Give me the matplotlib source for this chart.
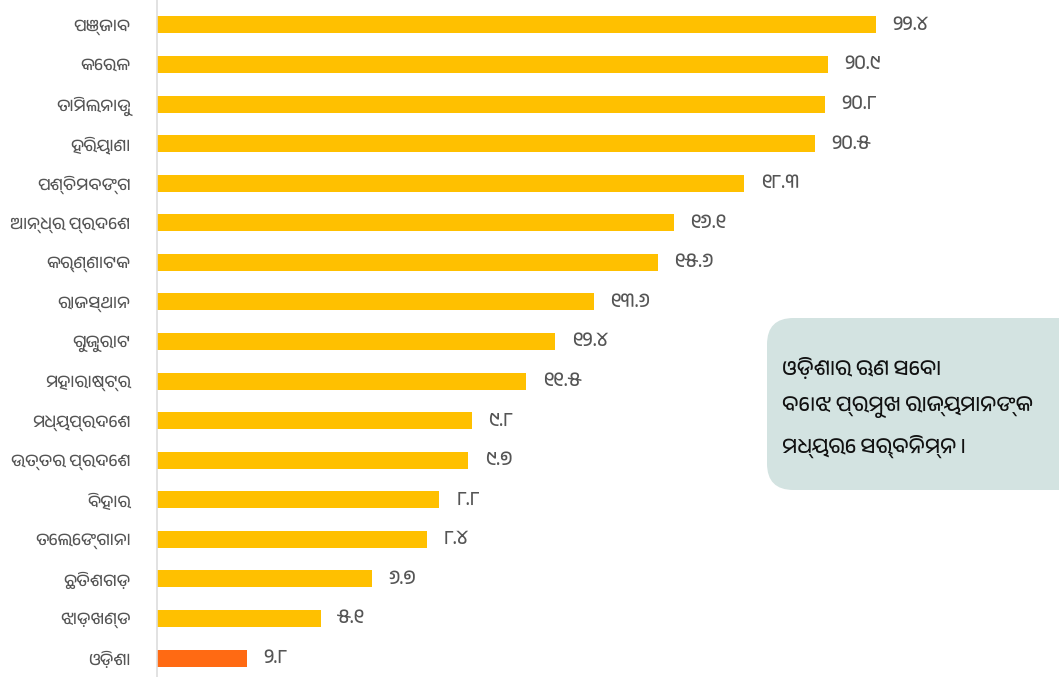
import matplotlib
matplotlib.use("Agg")
import matplotlib.pyplot as plt
from matplotlib import font_manager as fm
from matplotlib.patches import FancyBboxPatch

states = ["ପଞ୍ଜାବ", "କେରଳ", "ତାମିଲନାଡୁ", "ହରିୟାଣା", "ପଶ୍ଚିମବଙ୍ଗ", "ଆନ୍ଧ୍ର ପ୍ରଦେଶ",
          "କର୍ଣ୍ଣାଟକ", "ରାଜସ୍ଥାନ", "ଗୁଜୁରାଟ", "ମହାରାଷ୍ଟ୍ର", "ମଧ୍ୟପ୍ରଦେଶ", "ଉତ୍ତର ପ୍ରଦେଶ",
          "ବିହାର", "ତେଲେଙ୍ଗାନା", "ଛତିଶଗଡ଼", "ଝାଡ଼ଖଣ୍ଡ", "ଓଡ଼ିଶା"]
values = [22.4, 20.9, 20.8, 20.5, 18.3, 16.1, 15.6, 13.6, 12.4, 11.5, 9.8, 9.7, 8.8, 8.4, 6.7, 5.1, 2.8]
value_labels = ["୨୨.୪", "୨୦.୯", "୨୦.୮", "୨୦.୫", "୧୮.୩", "୧୬.୧", "୧୫.୬", "୧୩.୬", "୧୨.୪",
                "୧୧.୫", "୯.୮", "୯.୭", "୮.୮", "୮.୪", "୬.୭", "୫.୧", "୨.୮"]
highlight = "ଓଡ଼ିଶା"
note_lines = ["ଓଡ଼ିଶାର ଋଣ ସେବା", "ବୋଝ ପ୍ରମୁଖ ରାଜ୍ୟମାନଙ୍କ", "ମଧ୍ୟରେ ସର୍ବନିମ୍ନ ।"]

# pick a font with Odia coverage if one exists
families = []
for f in fm.fontManager.ttflist:
    n = f.name.lower()
    if ("oriya" in n or "odia" in n) and f.name not in families:
        families.append(f.name)
families += ["Noto Sans", "DejaVu Sans"]
plt.rcParams["font.family"] = families

fig = plt.figure(figsize=(10.59, 6.77), dpi=100)
ax = fig.add_axes([157 / 1059, 0.0, 1 - 157 / 1059, 1.0])

ypos = list(range(len(states)))
colors = ["#FF6A13" if s == highlight else "#FFC000" for s in states]
ax.barh(ypos, values, height=0.43, color=colors)
ax.set_ylim(16.48, -0.63)
ax.set_xlim(0, 28.1)
ax.set_yticks(ypos)
ax.set_yticklabels(states, fontsize=12, color="#555555")
ax.tick_params(axis="y", length=0, pad=19)
ax.set_xticks([])
for sp in ["top", "right", "bottom"]:
    ax.spines[sp].set_visible(False)
ax.spines["left"].set_color("#DDDDDD")
ax.spines["left"].set_linewidth(1.2)

for y, v, lab in zip(ypos, values, value_labels):
    ax.annotate(lab, (v, y), xytext=(12, 0), textcoords="offset points",
                va="center", ha="left", fontsize=14, color="#555555")

box = FancyBboxPatch((767 / 1059, 1 - 490 / 677), (1100 - 767) / 1059, (490 - 318) / 677,
                     boxstyle="round,pad=0,rounding_size=0.025", transform=fig.transFigure,
                     facecolor="#D3E3E1", edgecolor="none", mutation_aspect=1059 / 677)
fig.add_artist(box)
for i, line in enumerate(note_lines):
    fig.text(782 / 1059, 1 - (368 + 39 * i) / 677, line, fontsize=15, color="#111111",
             va="center", ha="left")

fig.savefig("out.png", dpi=100)
